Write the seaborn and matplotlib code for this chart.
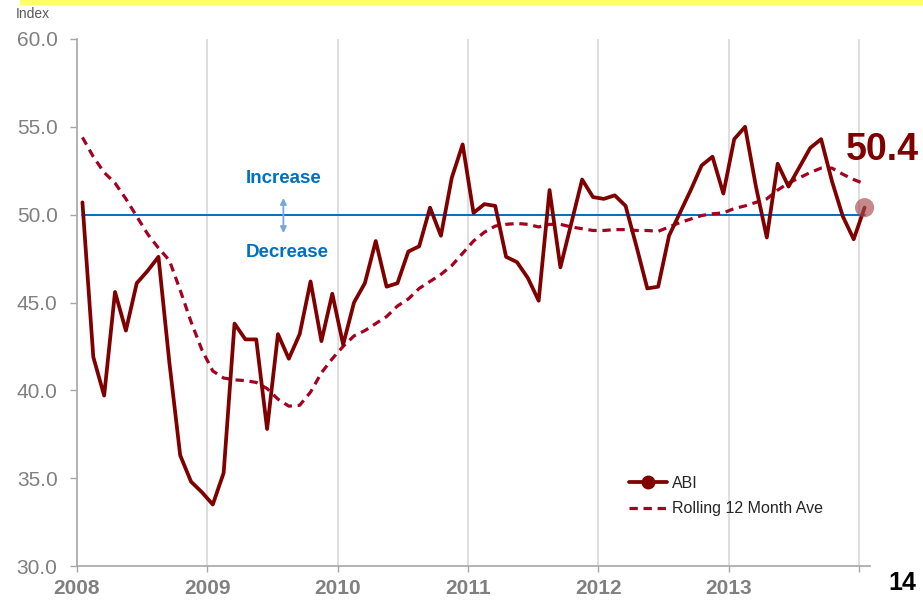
import numpy as np
import pandas as pd
import matplotlib
matplotlib.use("Agg")
import matplotlib.pyplot as plt
from matplotlib.lines import Line2D
from matplotlib.patches import Rectangle
import seaborn as sns

# ---- data (monthly, Jan 2008 .. Jan 2014) ----
abi = [50.7, 41.9, 39.7, 45.6, 43.4, 46.1, 46.8, 47.6, 41.6, 36.3, 34.8, 34.2,
       33.5, 35.3, 43.8, 42.9, 42.9, 37.8, 43.2, 41.8, 43.2, 46.2, 42.8, 45.5,
       42.6, 45.0, 46.1, 48.5, 45.9, 46.1, 47.9, 48.2, 50.4, 48.8, 52.1, 54.0,
       50.1, 50.6, 50.5, 47.6, 47.3, 46.4, 45.1, 51.4, 47.0, 49.5, 52.0, 51.0,
       50.9, 51.1, 50.5, 48.2, 45.8, 45.9, 48.8, 50.1, 51.4, 52.8, 53.3, 51.2,
       54.3, 55.0, 51.6, 48.7, 52.9, 51.6, 52.7, 53.8, 54.3, 51.9, 49.9, 48.6,
       50.4]
rolling = [54.4, 53.3, 52.4, 51.8, 50.9, 49.9, 48.9, 48.1, 47.4, 45.7, 43.9, 42.3,
           41.1, 40.7, 40.6, 40.55, 40.45, 40.1, 39.5, 39.1, 39.15, 39.9, 41.0, 41.8,
           42.5, 43.1, 43.4, 43.8, 44.2, 44.8, 45.2, 45.8, 46.2, 46.6, 47.1, 47.8,
           48.5, 49.0, 49.35, 49.45, 49.5, 49.45, 49.3, 49.45, 49.45, 49.3, 49.2, 49.1,
           49.1, 49.15, 49.15, 49.1, 49.1, 49.05, 49.3, 49.55, 49.75, 49.95, 50.05, 50.1,
           50.35, 50.5, 50.7, 50.9, 51.4, 51.8, 52.1, 52.4, 52.65, 52.65, 52.3, 52.0,
           51.75]
threshold = [50.0] * len(abi)
year_labels = ["2008", "2009", "2010", "2011", "2012", "2013", ""]
y_ticks = [30, 35, 40, 45, 50, 55, 60]
last_label = "50.4"

months = np.arange(len(abi))
df = pd.DataFrame({"month": months, "ABI": abi, "Rolling": rolling, "Base": threshold})

sns.set_style("white")
plt.rcParams["font.family"] = ["Liberation Sans", "DejaVu Sans"]

fig = plt.figure(figsize=(9.23, 6.0), dpi=100)
ax = fig.add_axes([77/923, 34/600, 793/923, 527/600])

DARK = "#800000"
DASH = "#a50021"
BLUE = "#0070c0"
GRAY = "#808080"

# year gridlines
year_pos = [i * 12 - 0.5 for i in range(7)]
for xp in year_pos[1:]:
    ax.axvline(xp, color="#d9d9d9", lw=1.2, zorder=0)

sns.lineplot(data=df, x="month", y="Base", ax=ax, color=BLUE, lw=1.4, zorder=2)
sns.lineplot(data=df, x="month", y="Rolling", ax=ax, color=DASH, lw=2.3,
             dashes=False, zorder=3).lines[-1].set_dashes([2.6, 1.8])
sns.lineplot(data=df, x="month", y="ABI", ax=ax, color=DARK, lw=2.7, zorder=4)
ax.scatter([months[-1]], [abi[-1]], s=190, color="#a84848", alpha=0.65,
           edgecolor="none", zorder=5, clip_on=False)

ax.set_xlim(-0.5, 72.5)
ax.set_ylim(30, 60)
ax.set_yticks(y_ticks)
ax.set_yticklabels([f"{v:.1f}" for v in y_ticks])
ax.set_xticks(year_pos)
ax.set_xticklabels(year_labels)
ax.set_xlabel("")
ax.set_ylabel("")

for s in ["top", "right"]:
    ax.spines[s].set_visible(False)
for s in ["left", "bottom"]:
    ax.spines[s].set_color("#a6a6a6")
    ax.spines[s].set_linewidth(1.2)

ax.tick_params(axis="y", which="major", direction="out", length=5, width=1,
               color="#a6a6a6", labelcolor=GRAY, labelsize=15, pad=9, left=True)
ax.tick_params(axis="x", which="major", direction="out", length=4, width=1,
               color="#a6a6a6", labelcolor=GRAY, labelsize=15, pad=5, bottom=True)
for lbl in ax.get_xticklabels():
    lbl.set_fontweight("bold")

# annotations
ax.text(18.5, 52.05, "Increase", color=BLUE, fontsize=13.5, fontweight="bold",
        ha="center", va="center")
ax.text(18.85, 47.85, "Decrease", color=BLUE, fontsize=13.5, fontweight="bold",
        ha="center", va="center")
ax.annotate("", xy=(18.5, 50.95), xytext=(18.5, 48.95),
            arrowprops=dict(arrowstyle="<|-|>", color="#7aa6de", lw=1.3,
                            mutation_scale=9, shrinkA=0, shrinkB=0))
ax.text(73.6, 53.7, last_label, color=DARK, fontsize=27, fontweight="bold",
        ha="center", va="center", clip_on=False)

handles = [Line2D([], [], color=DARK, lw=2.7, marker="o", markersize=9),
           Line2D([], [], color=DASH, lw=2.3, dashes=[2.6, 1.8])]
fig.legend(handles, ["ABI", "Rolling 12 Month Ave"], loc="upper left",
           bbox_to_anchor=(629/923, 0.207), frameon=False, fontsize=11.5,
           handlelength=2.4, handletextpad=0.3, labelspacing=0.65,
           borderpad=0, borderaxespad=0)

# figure decorations
fig.patches.append(Rectangle((20/923, 1 - 4/600), 1, 4/600, transform=fig.transFigure,
                             color="#ffff66", zorder=0))
fig.text(16/923, 1 - 14/600, "Index", fontsize=10, color="#595959", va="center", ha="left")
fig.text(916/923, 5/600, "14", fontsize=18, fontweight="bold", color="black",
         va="bottom", ha="right")

fig.savefig("out.png", dpi=100, facecolor="white")
